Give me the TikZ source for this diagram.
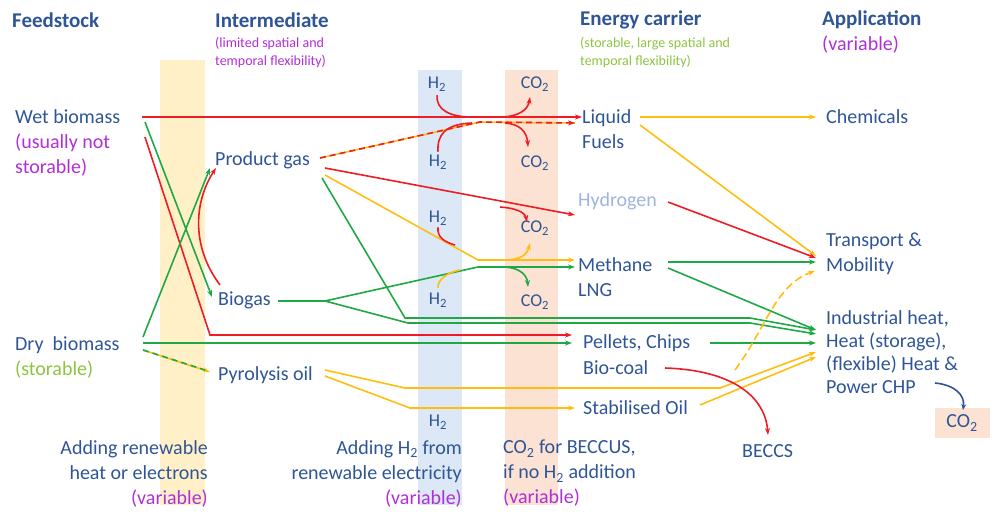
\documentclass[tikz,border=0pt]{standalone}
\usepackage{fontspec}
\setmainfont{Carlito}
\usetikzlibrary{arrows.meta}
\definecolor{txtblue}{HTML}{2F5597}
\definecolor{magtxt}{HTML}{B02FD8}
\definecolor{grntxt}{HTML}{8CC63F}
\definecolor{hydblue}{HTML}{9DB5E0}
\definecolor{fred}{HTML}{EE1C25}
\definecolor{fgreen}{HTML}{1FA844}
\definecolor{fyellow}{HTML}{FFBE0F}
\definecolor{bandy}{HTML}{FFF0C8}
\definecolor{bandb}{HTML}{DCE8F6}
\definecolor{bando}{HTML}{FBE2D2}
\tikzset{
  lbl/.style={anchor=west,inner sep=0pt,text=txtblue,font=\fontsize{20}{25}\selectfont,align=left},
  head/.style={lbl,font=\fontsize{21}{25}\selectfont\bfseries},
  small/.style={lbl,font=\fontsize{14}{18}\selectfont},
  flow/.style={line width=1.6pt,-{Stealth[length=7pt,width=5pt]}},
  line/.style={line width=1.6pt},
  rd/.style={flow,fred}, gn/.style={flow,fgreen}, yl/.style={flow,fyellow},
  rdash/.style={line width=1.6pt,fred,dash pattern=on 6pt off 4pt},
  gdash/.style={line width=1.6pt,fgreen,dash pattern=on 6pt off 4pt}
}
\begin{document}
\begin{tikzpicture}[x=1pt,y=-1pt]
  \useasboundingbox (0,0) rectangle (1004,525);
  % bands
  \fill[bandy] (160,60) rectangle (205,505);
  \fill[bandb] (418,70) rectangle (462,505);
  \fill[bando] (505,70) rectangle (558,505);
  \fill[bando] (935,408) rectangle (990,438);
  % headings
  \node[head] (hfeed) at (12,20) {Feedstock};
  \node[head] (hint) at (215,20) {Intermediate};
  \node[head] (hcar) at (580,20) {Energy carrier};
  \node[head] (happ) at (822,20) {Application};
  \node[small,text=magtxt] (sint) at (215,53) {(limited spatial and\\temporal flexibility)};
  \node[small,text=grntxt] (scar) at (580,53) {(storable, large spatial and\\temporal flexibility)};
  \node[lbl,text=magtxt] (sapp) at (822,45) {(variable)};
  % feedstock
  \node[lbl] (wet) at (15,117) {Wet biomass};
  \node[lbl,text=magtxt] (wetn) at (15,155) {(usually not\\storable)};
  \node[lbl] (dry) at (15,345) {Dry\ \ biomass};
  \node[lbl,text=grntxt] (dryn) at (15,370) {(storable)};
  % intermediates
  \node[lbl] (pgas) at (215,160) {Product gas};
  \node[lbl] (biogas) at (218,300) {Biogas};
  \node[lbl] (pyro) at (218,375) {Pyrolysis oil};
  % carriers
  \node[lbl] (liq) at (582,129) {Liquid\\Fuels};
  \node[lbl,text=hydblue] (hyd) at (578,201) {Hydrogen};
  \node[lbl] (meth) at (578,277) {Methane\\LNG};
  \node[lbl] (pell) at (583,343) {Pellets, Chips};
  \node[lbl] (coal) at (583,368) {Bio-coal};
  \node[lbl] (stab) at (583,408) {Stabilised Oil};
  % applications
  \node[lbl] (chem) at (826,117) {Chemicals};
  \node[lbl] (trans) at (826,254) {Transport \&\\Mobility};
  \node[lbl,font=\fontsize{20}{23}\selectfont] (ind) at (826,352) {Industrial heat,\\Heat (storage),\\(flexible) Heat \&\\Power CHP};
  \node[lbl] (beccs) at (742,451) {BECCS};
  \node[lbl,anchor=center] (co2app) at (962,423) {CO\textsubscript{2}};
  % bottom notes
  \node[lbl,align=right,anchor=north east] (nheat) at (208,440) {Adding renewable\\heat or electrons\\{\color{magtxt}(variable)}};
  \node[lbl,align=right,anchor=north east] (nhyd) at (462,440) {Adding H\textsubscript{2} from\\renewable electricity\\{\color{magtxt}(variable)}};
  \node[lbl,anchor=north west] (nco) at (503,440) {CO\textsubscript{2} for BECCUS,\\if no H\textsubscript{2} addition\\{\color{magtxt}(variable)}};
  % H2 / CO2 labels
  \foreach \n/\x/\y/\t in {ha/437/84/H, hb/438/162/H, hc/438/218/H, hd/438/300/H, he/438/422/H,
                           ca/535/84/CO, cb/535/163/CO, cc/535/228/CO, cd/535/302/CO}
    \node[lbl,anchor=center,font=\fontsize{18}{22}\selectfont] (\n) at (\x,\y) {\t\textsubscript{2}};
  % bend points
  \coordinate (wstart) at (142,117);
  \coordinate (mfuel) at (480,122);
  \coordinate (mmeth) at (478,260);
  \coordinate (mmeth2) at (478,267);
  % wet biomass
  \draw[rd] (wstart) -- (liq.west |- wet);
  \draw[rd] (145,137) -- (210,335) -- (572,335);
  \draw[gn] (145,122) -- (212,297);
  % dry biomass
  \draw[gn] (143,337) -- (210,168);
  \draw[rd] (220,285) .. controls (190,245) and (195,200) .. (216,168);
  \draw[gn] (143,343) -- (572,343);
  \draw[gn] (710,343) -- (816,343);
  \draw[line,fyellow,-{Stealth[length=7pt,width=5pt]}] (143,350) -- (210,372);
  \draw[gdash] (143,350) -- (205,370);
  % product gas
  \draw[line,fyellow] (320,158) -- (mfuel) -- (575,123);
  \draw[rdash,-{Stealth[length=7pt,width=5pt]}] (320,158) -- (mfuel) -- (575,123);
  \draw[rd] (325,168) -- (575,215);
  \draw[yl] (325,175) -- (mmeth) -- (575,260);
  \draw[gn] (322,178) -- (405,318) -- (750,318) -- (816,330);
  % biogas
  \draw[line,fgreen] (278,301) -- (325,301);
  \draw[gn] (325,301) -- (mmeth2) -- (575,267);
  \draw[gn] (325,301) -- (408,323) -- (750,323) -- (816,334);
  % pyrolysis oil
  \draw[yl] (325,370) -- (405,388) -- (720,388) -- (816,352);
  \draw[yl] (325,376) -- (410,408) -- (575,408);
  \draw[yl] (700,405) -- (816,357);
  % carriers to applications
  \draw[yl] (640,117) -- (816,117);
  \draw[yl] (640,125) -- (816,256);
  \draw[rd] (668,202) -- (816,258);
  \draw[gn] (668,262) -- (816,262);
  \draw[gn] (668,268) -- (816,330);
  \draw[line,fyellow,dash pattern=on 8pt off 4pt,-{Stealth[length=7pt,width=5pt]}] (735,370) .. controls (765,330) and (775,285) .. (815,271);
  \draw[rd] (665,368) .. controls (730,370) and (765,395) .. (768,435);
  \draw[line,txtblue,-{Stealth[length=6pt,width=5pt]}] (935,383) .. controls (955,385) and (965,395) .. (963,410);
  % H2 in, CO2 out
  \draw[line,fred] (ha.south) ++(0,4) .. controls (436,110) and (450,117) .. (472,117);
  \draw[rd] (500,117) .. controls (518,117) and (528,110) .. (530,97);
  \draw[line,fred] (hb.north) ++(0,-3) .. controls (437,135) and (445,124) .. (472,123);
  \draw[rd] (505,123) .. controls (520,124) and (527,132) .. (528,147);
  \draw[line,fred] (hc.south) ++(0,2) .. controls (437,238) and (445,242) .. (455,245);
  \draw[rd] (500,207) .. controls (515,208) and (525,212) .. (527,222);
  \draw[line,fyellow] (hd.north) ++(0,-5) .. controls (437,280) and (448,272) .. (460,270);
  \draw[yl] (505,260) .. controls (520,260) and (527,255) .. (530,243);
  \draw[gn] (505,267) .. controls (520,268) and (527,275) .. (528,287);
\end{tikzpicture}
\end{document}
